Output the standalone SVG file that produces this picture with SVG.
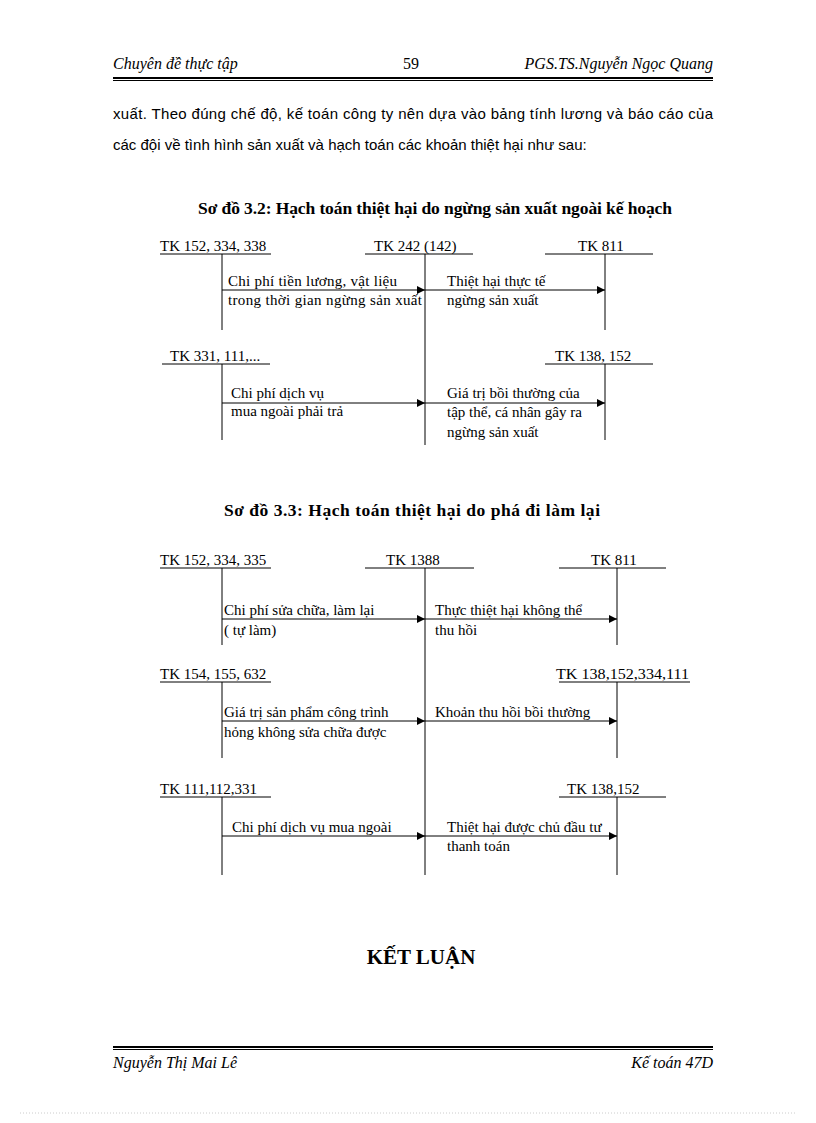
<svg xmlns="http://www.w3.org/2000/svg" width="816" height="1123" viewBox="0 0 816 1123">
<defs>
<marker id="ah" markerWidth="8" markerHeight="8" refX="8" refY="4" orient="auto" markerUnits="userSpaceOnUse"><path d="M0,0 L8,4 L0,8 Z" fill="#000"/></marker>
<style>
text{font-family:"Liberation Serif","Times New Roman",serif;fill:#000}
.t{font-size:15px}
.h{font-size:16px;font-style:italic}
.p{font-size:15px;font-family:"Liberation Sans",Arial,sans-serif}
.ti{font-size:17.5px;font-weight:bold}
line{stroke:#000;stroke-width:1}
.a{marker-end:url(#ah)}
</style>
</defs>
<rect width="816" height="1123" fill="#fff"/>
<g id="header">
<text class="h" x="113" y="69">Chuyên đề thực tập</text>
<text x="411" y="69" font-size="16" text-anchor="middle">59</text>
<text class="h" x="713" y="69" text-anchor="end">PGS.TS.Nguyễn Ngọc Quang</text>
<line x1="113" y1="78" x2="713" y2="78" style="stroke-width:2"/>
<line x1="113" y1="80.5" x2="713" y2="80.5"/>
</g>
<text class="p" x="113" y="119" textLength="600" lengthAdjust="spacing">xuất. Theo đúng chế độ, kế toán công ty nên dựa vào bảng tính lương và báo cáo của</text>
<text class="p" x="113" y="150">các đội về tình hình sản xuất và hạch toán các khoản thiệt hại như sau:</text>
<text class="ti" x="198" y="214" textLength="474" lengthAdjust="spacing">Sơ đồ 3.2: Hạch toán thiệt hại do ngừng sản xuất ngoài kế hoạch</text>

<g id="d1-accounts">
<g id="n1a"><text class="t" x="160" y="251">TK 152, 334, 338</text><line x1="160" y1="254" x2="271" y2="254"/><line x1="222" y1="254" x2="222" y2="330"/></g>
<g id="n1b"><text class="t" x="374" y="251">TK 242 (142)</text><line x1="365" y1="254" x2="473" y2="254"/><line x1="425" y1="254" x2="425" y2="445"/></g>
<g id="n1c"><text class="t" x="578" y="251">TK 811</text><line x1="545" y1="254" x2="653" y2="254"/><line x1="605" y1="254" x2="605" y2="330"/></g>
<g id="n1d"><text class="t" x="170" y="361">TK 331, 111,...</text><line x1="162" y1="364" x2="270" y2="364"/><line x1="222" y1="364" x2="222" y2="440"/></g>
<g id="n1e"><text class="t" x="555" y="361">TK 138, 152</text><line x1="545" y1="364" x2="653" y2="364"/><line x1="605" y1="364" x2="605" y2="440"/></g>
</g>
<g id="d1-connectors">
<line class="a" x1="222" y1="290" x2="425" y2="290"/>
<line class="a" x1="425" y1="290" x2="605" y2="290"/>
<line class="a" x1="222" y1="403" x2="425" y2="403"/>
<line class="a" x1="425" y1="403" x2="605" y2="403"/>
<text class="t" x="228" y="286" textLength="169" lengthAdjust="spacing">Chi phí tiền lương, vật liệu</text>
<text class="t" x="228" y="305" textLength="194" lengthAdjust="spacing">trong thời gian ngừng sản xuất</text>
<text class="t" x="447" y="286">Thiệt hại thực tế</text>
<text class="t" x="447" y="305">ngừng sản xuất</text>
<text class="t" x="231" y="398">Chi phí dịch vụ</text>
<text class="t" x="231" y="416">mua ngoài phải trả</text>
<text class="t" x="447" y="398">Giá trị bồi thường của</text>
<text class="t" x="447" y="417">tập thể, cá nhân gây ra</text>
<text class="t" x="447" y="437">ngừng sản xuất</text>
</g>

<text class="ti" x="224" y="516" textLength="376" lengthAdjust="spacing">Sơ đồ 3.3: Hạch toán thiệt hại do phá đi làm lại</text>

<g id="d2-accounts">
<g id="n2a"><text class="t" x="160" y="565">TK 152, 334, 335</text><line x1="160" y1="568" x2="271" y2="568"/><line x1="222" y1="568" x2="222" y2="645"/></g>
<g id="n2b"><text class="t" x="386" y="565">TK 1388</text><line x1="365" y1="568" x2="474" y2="568"/><line x1="425" y1="568" x2="425" y2="875"/></g>
<g id="n2c"><text class="t" x="591" y="565">TK 811</text><line x1="559" y1="568" x2="666" y2="568"/><line x1="617" y1="568" x2="617" y2="645"/></g>
<g id="n2d"><text class="t" x="160" y="679">TK 154, 155, 632</text><line x1="160" y1="682" x2="271" y2="682"/><line x1="222" y1="682" x2="222" y2="758"/></g>
<g id="n2e"><text class="t" x="556" y="679" textLength="133" lengthAdjust="spacingAndGlyphs">TK 138,152,334,111</text><line x1="559" y1="682" x2="690" y2="682"/><line x1="617" y1="682" x2="617" y2="758"/></g>
<g id="n2f"><text class="t" x="160" y="794">TK 111,112,331</text><line x1="160" y1="797" x2="271" y2="797"/><line x1="222" y1="797" x2="222" y2="875"/></g>
<g id="n2g"><text class="t" x="567" y="794">TK 138,152</text><line x1="559" y1="797" x2="666" y2="797"/><line x1="617" y1="797" x2="617" y2="875"/></g>
</g>
<g id="d2-connectors">
<line class="a" x1="222" y1="619" x2="425" y2="619"/>
<line class="a" x1="425" y1="619" x2="617" y2="619"/>
<line class="a" x1="222" y1="721" x2="425" y2="721"/>
<line class="a" x1="425" y1="721" x2="617" y2="721"/>
<line class="a" x1="222" y1="836" x2="425" y2="836"/>
<line class="a" x1="425" y1="836" x2="617" y2="836"/>
<text class="t" x="224" y="615">Chi phí sửa chữa, làm lại</text>
<text class="t" x="224" y="635">( tự làm)</text>
<text class="t" x="435" y="615">Thực thiệt hại không thể</text>
<text class="t" x="435" y="635">thu hồi</text>
<text class="t" x="224" y="717">Giá trị sản phẩm công trình</text>
<text class="t" x="224" y="737">hỏng không sửa chữa được</text>
<text class="t" x="435" y="717">Khoản thu hồi bồi thường</text>
<text class="t" x="232" y="832">Chi phí dịch vụ mua ngoài</text>
<text class="t" x="447" y="832">Thiệt hại được chủ đầu tư</text>
<text class="t" x="447" y="851">thanh toán</text>
</g>

<text x="421" y="964" font-size="21" font-weight="bold" text-anchor="middle" font-family="Liberation Serif, serif">KẾT LUẬN</text>

<g id="footer">
<line x1="113" y1="1047" x2="713" y2="1047" style="stroke-width:2"/>
<line x1="113" y1="1049.5" x2="713" y2="1049.5"/>
<text class="h" x="113" y="1068">Nguyễn Thị Mai Lê</text>
<text class="h" x="713" y="1068" text-anchor="end">Kế toán 47D</text>
<line x1="20" y1="1113" x2="796" y2="1113" style="stroke:#ccc;stroke-dasharray:1 2"/>
</g>
</svg>
